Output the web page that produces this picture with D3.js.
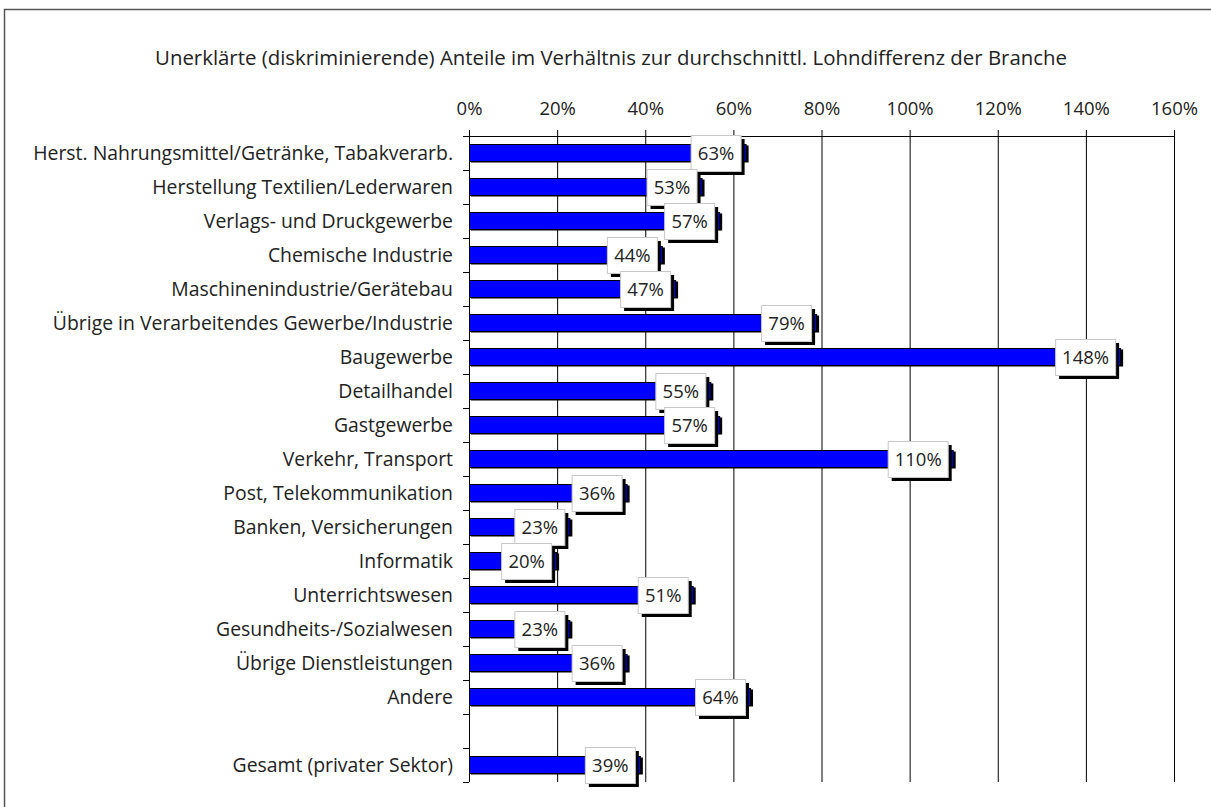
<!DOCTYPE html>
<html>
<head>
<meta charset="utf-8">
<script src="https://cdn.jsdelivr.net/npm/d3@7/dist/d3.min.js"></script>
<style>
  body { margin: 0; background: #fff; }
  svg text { font-family: "Open Sans", sans-serif; fill: #222; }
</style>
</head>
<body>
<script>
// categories (empty string = gap row before the total)
var categories = [
  'Herst. Nahrungsmittel/Getränke, Tabakverarb.',
  'Herstellung Textilien/Lederwaren',
  'Verlags- und Druckgewerbe',
  'Chemische Industrie',
  'Maschinenindustrie/Gerätebau',
  'Übrige in Verarbeitendes Gewerbe/Industrie',
  'Baugewerbe',
  'Detailhandel',
  'Gastgewerbe',
  'Verkehr, Transport',
  'Post, Telekommunikation',
  'Banken, Versicherungen',
  'Informatik',
  'Unterrichtswesen',
  'Gesundheits-/Sozialwesen',
  'Übrige Dienstleistungen',
  'Andere',
  '',
  'Gesamt (privater Sektor)'
];

// unexplained share in percent
var values = [63, 53, 57, 44, 47, 79, 148, 55, 57, 110, 36, 23, 20, 51, 23, 36, 64, null, 39];

var tickValues = [0, 20, 40, 60, 80, 100, 120, 140, 160];

var title = 'Unerklärte (diskriminierende) Anteile im Verhältnis zur durchschnittl. Lohndifferenz der Branche';

var W = 1211, H = 807;
var plotL = 469, plotR = 1174, plotT = 136, plotB = 782;

var svg = d3.select('body').append('svg')
  .attr('width', W)
  .attr('height', H);

// outer frame
svg.append('rect')
  .attr('x', 4.5).attr('y', 9.5)
  .attr('width', W + 20).attr('height', H + 20)
  .attr('fill', 'none')
  .attr('stroke', '#555')
  .attr('stroke-width', 1.5);

svg.append('text')
  .attr('x', 611).attr('y', 65)
  .attr('text-anchor', 'middle')
  .style('font-size', '20.4px')
  .text(title);

var x = d3.scaleLinear().domain([0, 160]).range([plotL, plotR]);
var y = d3.scaleBand().domain(d3.range(categories.length)).range([plotT, plotB]).padding(0);

// gridlines
svg.append('g')
  .attr('transform', 'translate(0,' + plotT + ')')
  .call(d3.axisTop(x).tickValues(tickValues).tickSize(-(plotB - plotT)).tickFormat(''))
  .call(function(g) {
    g.select('.domain').remove();
    g.selectAll('line').attr('stroke', '#000');
  });

// top axis
svg.append('g')
  .attr('transform', 'translate(0,' + plotT + ')')
  .call(d3.axisTop(x).tickValues(tickValues).tickSize(6).tickSizeOuter(0).tickPadding(15)
    .tickFormat(function(d) { return d + '%'; }))
  .call(function(g) {
    g.select('.domain').attr('stroke', '#000').attr('d', 'M' + (plotL - 6) + ',0.5H' + plotR);
    g.selectAll('line').attr('stroke', '#000');
    g.selectAll('text')
      .style('font-family', '"Open Sans", sans-serif')
      .style('font-size', '18.5px')
      .attr('fill', '#222');
  });

// left axis line + boundary ticks
svg.append('line')
  .attr('x1', plotL + 0.5).attr('x2', plotL + 0.5)
  .attr('y1', plotT).attr('y2', plotB)
  .attr('stroke', '#000');

svg.append('g').selectAll('line')
  .data(d3.range(categories.length + 1))
  .enter().append('line')
  .attr('x1', plotL - 6).attr('x2', plotL)
  .attr('y1', function(i) { return Math.round(plotT + i * y.step()) + 0.5; })
  .attr('y2', function(i) { return Math.round(plotT + i * y.step()) + 0.5; })
  .attr('stroke', '#000');

// category labels
svg.append('g').selectAll('text')
  .data(categories)
  .enter().append('text')
  .attr('x', 453)
  .attr('y', function(d, i) { return y(i) + y.bandwidth() / 2; })
  .attr('dy', '0.35em')
  .attr('text-anchor', 'end')
  .style('font-size', '19.4px')
  .text(function(d) { return d; });

var rows = values.map(function(v, i) { return { v: v, i: i }; })
  .filter(function(d) { return d.v !== null; });

var barH = 17;

// bar shadows
svg.append('g').selectAll('rect')
  .data(rows)
  .enter().append('rect')
  .attr('x', plotL + 2)
  .attr('y', function(d) { return y(d.i) + (y.bandwidth() - barH) / 2 + 1; })
  .attr('width', function(d) { return x(d.v) - plotL; })
  .attr('height', barH)
  .attr('fill', '#000');

// bars
svg.append('g').selectAll('rect')
  .data(rows)
  .enter().append('rect')
  .attr('x', plotL + 0.5)
  .attr('y', function(d) { return y(d.i) + (y.bandwidth() - barH) / 2; })
  .attr('width', function(d) { return x(d.v) - plotL - 1; })
  .attr('height', barH)
  .attr('fill', '#0000ff')
  .attr('stroke', '#000')
  .attr('stroke-width', 1);

// value labels
var boxH = 36;
var lab = svg.append('g').selectAll('g')
  .data(rows)
  .enter().append('g')
  .attr('transform', function(d) {
    var w = d.v >= 100 ? 60 : 50;
    return 'translate(' + (x(d.v) - 6 - w) + ',' + (y(d.i) + y.bandwidth() / 2 - boxH / 2) + ')';
  });

lab.append('rect')
  .attr('x', 4).attr('y', 4)
  .attr('width', function(d) { return d.v >= 100 ? 60 : 50; })
  .attr('height', boxH)
  .attr('fill', '#000');

lab.append('rect')
  .attr('x', 0.5).attr('y', 0.5)
  .attr('width', function(d) { return d.v >= 100 ? 60 : 50; })
  .attr('height', boxH)
  .attr('fill', '#fff')
  .attr('stroke', '#c8c8c8');

lab.append('text')
  .attr('x', function(d) { return (d.v >= 100 ? 60 : 50) / 2 + 0.5; })
  .attr('y', boxH / 2 + 0.5)
  .attr('dy', '0.35em')
  .attr('text-anchor', 'middle')
  .style('font-size', '18.5px')
  .text(function(d) { return d.v + '%'; });
</script>
</body>
</html>
